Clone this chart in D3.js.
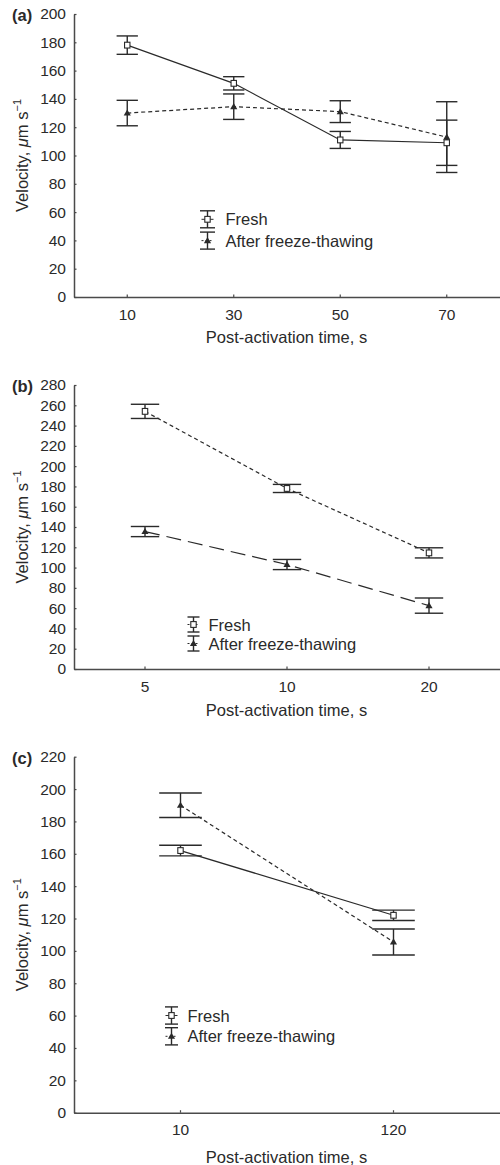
<!DOCTYPE html>
<html>
<head>
<meta charset="utf-8">
<script src="https://cdn.jsdelivr.net/npm/d3@7/dist/d3.min.js"></script>
<style>
  html, body { margin: 0; padding: 0; background: #fff; }
  svg { display: block; font-family: "Liberation Sans", Arial, sans-serif; }
</style>
</head>
<body>
<svg id="chart" width="500" height="1165"></svg>
<script>
// panel (a)
const timesA = ['10', '30', '50', '70'];
const freshA = [178, 151, 111, 109];
const freshErrA = [6.5, 4.7, 6, 16];
const thawedA = [130, 134.5, 131, 113];
const thawedErrA = [9, 9, 7.7, 25];
const yTicksA = d3.range(0, 201, 20);

// panel (b)
const timesB = ['5', '10', '20'];
const freshB = [254, 178, 114.5];
const freshErrB = [7, 4, 5];
const thawedB = [135.5, 103, 62.5];
const thawedErrB = [5, 5, 7.5];
const yTicksB = d3.range(0, 281, 20);

// panel (c)
const timesC = ['10', '120'];
const freshC = [162, 122];
const freshErrC = [3.3, 3.2];
const thawedC = [190, 105.5];
const thawedErrC = [7.6, 8];
const yTicksC = d3.range(0, 221, 20);

const seriesNames = ['Fresh', 'After freeze-thawing'];
const xTitle = 'Post-activation time, s';

const INK = '#2a2a2a';
const AXIS = '#4a4a4a';
const LEFT = 74, RIGHT = 500;
const FONT = '"Liberation Sans", Arial, sans-serif';

const panels = [
  { label: '(a)', times: timesA, yTicks: yTicksA, top: 14, bottom: 297, titleOff: 46,
    fresh: freshA, freshErr: freshErrA, thawed: thawedA, thawedErr: thawedErrA,
    freshDash: null, thawedDash: '4,3',
    legend: { x: 207.5, y: 219.3, gap: 21.3, half: 8.5, cap: 15, tx: 225.5 } },
  { label: '(b)', times: timesB, yTicks: yTicksB, top: 385, bottom: 669, titleOff: 47,
    fresh: freshB, freshErr: freshErrB, thawed: thawedB, thawedErr: thawedErrB,
    freshDash: '4,3', thawedDash: '15,7',
    legend: { x: 193.5, y: 624.5, gap: 19, half: 7.5, cap: 12, tx: 208.5 } },
  { label: '(c)', times: timesC, yTicks: yTicksC, top: 756.7, bottom: 1112.7, titleOff: 50,
    fresh: freshC, freshErr: freshErrC, thawed: thawedC, thawedErr: thawedErrC,
    freshDash: null, thawedDash: '4,3',
    legend: { x: 171.5, y: 1015.5, gap: 20.8, half: 8.6, cap: 13, tx: 187.5 } }
];

const svg = d3.select('#chart');

function drawMarker(g, kind, x, y) {
  if (kind === 'fresh') {
    g.append('rect')
      .attr('x', x - 2.7).attr('y', y - 2.9)
      .attr('width', 5.4).attr('height', 5.8)
      .attr('fill', '#fff').attr('stroke', INK).attr('stroke-width', 1.1);
  } else {
    g.append('path')
      .attr('d', d3.symbol(d3.symbolTriangle, 22)())
      .attr('transform', `translate(${x},${y + 0.5})`)
      .attr('fill', INK);
  }
}

function drawErrorBar(g, x, yLow, yHigh, cap) {
  g.append('line')
    .attr('x1', x).attr('x2', x).attr('y1', yLow).attr('y2', yHigh)
    .attr('stroke', INK).attr('stroke-width', 1.4);
  [yLow, yHigh].forEach((yy) => {
    g.append('line')
      .attr('x1', x - cap / 2).attr('x2', x + cap / 2).attr('y1', yy).attr('y2', yy)
      .attr('stroke', INK).attr('stroke-width', 1.4);
  });
}

panels.forEach((p) => {
  const g = svg.append('g');
  const yMax = p.yTicks[p.yTicks.length - 1];
  const x = d3.scaleBand().domain(p.times).range([LEFT, RIGHT]);
  const y = d3.scaleLinear().domain([0, yMax]).range([p.bottom, p.top]);
  const cx = (t) => x(t) + x.bandwidth() / 2;
  const cap = x.bandwidth() * 0.2;

  // y axis
  const yAxis = g.append('g')
    .attr('transform', `translate(${LEFT},0)`)
    .call(d3.axisLeft(y).tickValues(p.yTicks).tickSizeInner(-2.5).tickSizeOuter(0).tickPadding(8));
  yAxis.select('.domain').attr('stroke', AXIS).attr('stroke-width', 1.5);
  yAxis.selectAll('.tick line').attr('stroke', AXIS).attr('stroke-width', 1.2);
  yAxis.selectAll('.tick text')
    .attr('font-size', 15.5).attr('fill', INK).attr('font-family', FONT);

  // x axis
  const xAxis = g.append('g')
    .attr('transform', `translate(0,${p.bottom})`)
    .call(d3.axisBottom(x).tickSizeInner(-2.5).tickSizeOuter(0).tickPadding(8));
  xAxis.select('.domain').attr('stroke', AXIS).attr('stroke-width', 1.5);
  xAxis.selectAll('.tick line').attr('stroke', AXIS).attr('stroke-width', 1.2);
  xAxis.selectAll('.tick text')
    .attr('font-size', 15.5).attr('fill', INK).attr('dy', '0.95em').attr('font-family', FONT);

  // titles
  g.append('text')
    .attr('x', 12).attr('y', p.top + 7)
    .attr('font-size', 16.5).attr('font-weight', 'bold').attr('fill', INK)
    .text(p.label);

  g.append('text')
    .attr('x', (LEFT + RIGHT) / 2 - 0.5).attr('y', p.bottom + p.titleOff)
    .attr('text-anchor', 'middle').attr('font-size', 16.5).attr('fill', INK)
    .text(xTitle);

  const yt = g.append('text')
    .attr('transform', `translate(28,${(p.top + p.bottom) / 2}) rotate(-90)`)
    .attr('text-anchor', 'middle').attr('font-size', 16.5).attr('fill', INK);
  yt.append('tspan').text('Velocity, ');
  yt.append('tspan').attr('font-style', 'italic').text('μ');
  yt.append('tspan').text('m s');
  yt.append('tspan').attr('font-size', 11).attr('dy', -7).text('−1');

  // series lines
  const series = [
    { kind: 'fresh', vals: p.fresh, errs: p.freshErr, dash: p.freshDash },
    { kind: 'thawed', vals: p.thawed, errs: p.thawedErr, dash: p.thawedDash }
  ];
  const line = d3.line().x((d) => cx(d.t)).y((d) => y(d.v));
  series.forEach((s) => {
    const pts = p.times.map((t, i) => ({ t, v: s.vals[i] }));
    g.append('path')
      .datum(pts)
      .attr('d', line)
      .attr('fill', 'none').attr('stroke', INK).attr('stroke-width', 1.2)
      .attr('stroke-dasharray', s.dash);
  });
  series.forEach((s) => {
    p.times.forEach((t, i) => {
      drawErrorBar(g, cx(t), y(s.vals[i] - s.errs[i]), y(s.vals[i] + s.errs[i]), cap);
    });
  });
  series.forEach((s) => {
    p.times.forEach((t, i) => drawMarker(g, s.kind, cx(t), y(s.vals[i])));
  });

  // legend
  const L = p.legend;
  series.forEach((s, i) => {
    const ly = L.y + i * L.gap;
    drawErrorBar(g, L.x, ly + L.half, ly - L.half, L.cap);
    g.append('line')
      .attr('x1', L.x - 6).attr('x2', L.x + 6).attr('y1', ly).attr('y2', ly)
      .attr('stroke', INK).attr('stroke-width', 1)
      .attr('stroke-dasharray', s.dash ? '2,2' : null);
    drawMarker(g, s.kind, L.x, ly);
    g.append('text')
      .attr('x', L.tx).attr('y', ly + 6)
      .attr('font-size', 16.5).attr('fill', INK)
      .text(seriesNames[i]);
  });
});
</script>
</body>
</html>
